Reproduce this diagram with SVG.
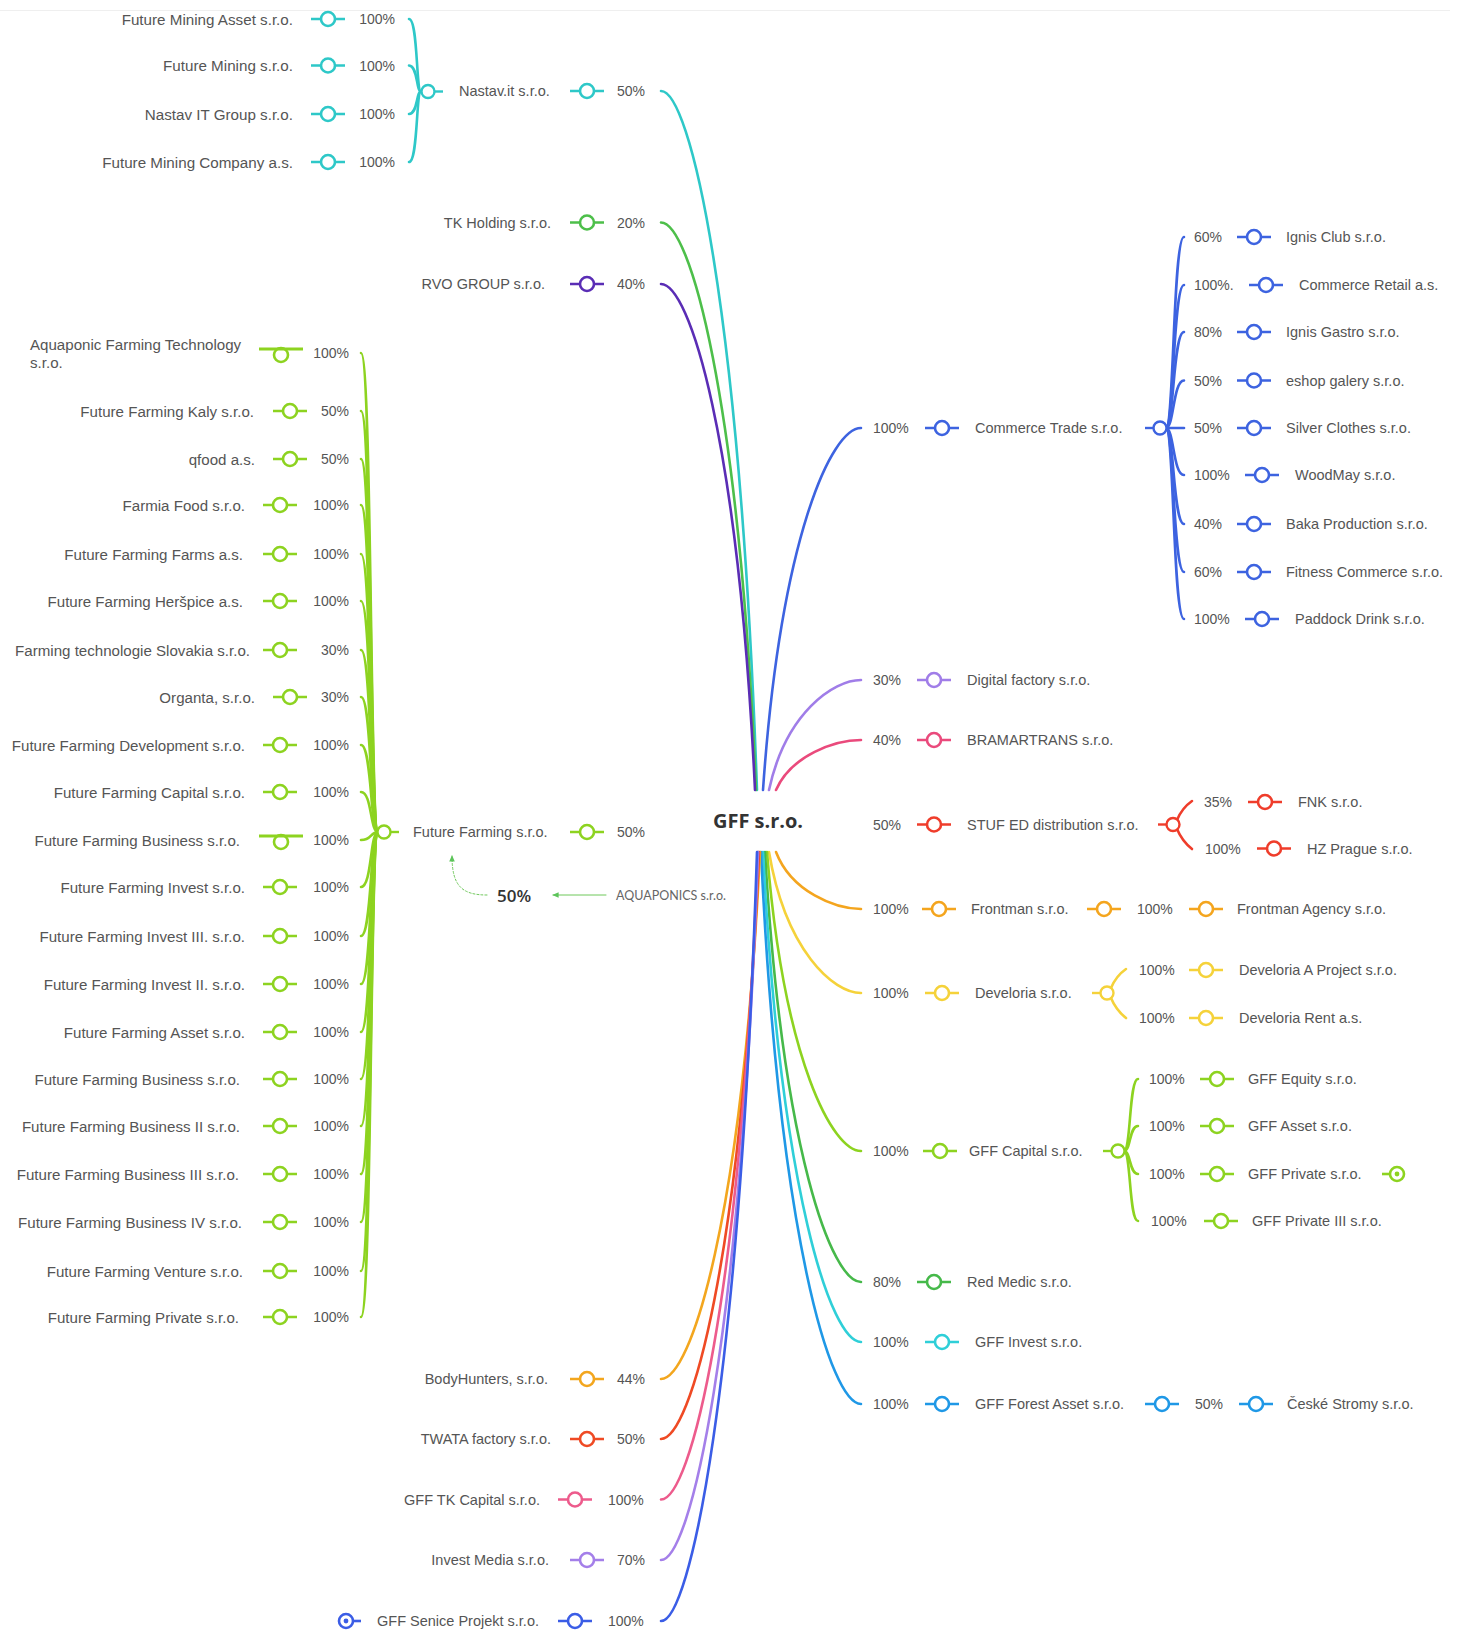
<svg xmlns="http://www.w3.org/2000/svg" width="1464" height="1630" viewBox="0 0 1464 1630">
<style>
.t{font-family:"Liberation Sans",Arial,sans-serif;font-size:14.5px;fill:#555;dominant-baseline:central}
.e{text-anchor:end}
.p{font-size:14px}
.m{font-size:15.2px}
.f{font-size:15.1px}
.c path{fill:none;stroke-width:2.6;stroke-linecap:round}
.title{font-family:"Open Sans","Liberation Sans",sans-serif;font-weight:700;font-size:20px;fill:#333;dominant-baseline:central;text-anchor:middle}
</style>
<defs>
<g id="nd"><path d="M-17 0H-7M7 0H17" stroke="currentColor" stroke-width="2.6" fill="none"/><circle r="7" fill="#fff" stroke="currentColor" stroke-width="2.6"/></g>
<g id="nd2"><circle r="7" cy="2" fill="#fff" stroke="currentColor" stroke-width="2.6"/><path d="M-22 -4H22" stroke="currentColor" stroke-width="2.8" fill="none"/></g>
<g id="jl"><path d="M-15 0H-6.5" stroke="currentColor" stroke-width="2.4" fill="none"/><circle r="6.5" fill="#fff" stroke="currentColor" stroke-width="2.4"/></g>
<g id="jr"><path d="M6.5 0H15" stroke="currentColor" stroke-width="2.4" fill="none"/><circle r="6.5" fill="#fff" stroke="currentColor" stroke-width="2.4"/></g>
<g id="dl"><path d="M-15 0H-7" stroke="currentColor" stroke-width="2.6" fill="none"/><circle r="7" fill="#fff" stroke="currentColor" stroke-width="2.6"/><circle r="2.4" fill="currentColor"/></g>
<g id="dr"><path d="M7 0H15" stroke="currentColor" stroke-width="2.6" fill="none"/><circle r="7" fill="#fff" stroke="currentColor" stroke-width="2.6"/><circle r="2.4" fill="currentColor"/></g>
<marker id="ar" viewBox="0 0 10 10" refX="8" refY="5" markerWidth="7" markerHeight="7" orient="auto"><path d="M0 1L9 5L0 9z" fill="#5cc45a"/></marker>
</defs>
<rect width="1464" height="1630" fill="#fff"/>
<path d="M0 10.5H1450" stroke="#efefef" stroke-width="1"/>

<g id="connectors" class="c">
<path d="M661 91C689.8 91 739.7 300.7 757 790" stroke="#2ec8c8"/>
<path d="M661 222.5C689.5 222.5 738.9 392.8 756 790" stroke="#4dbf4a"/>
<path d="M661 284C689.2 284 738.1 435.8 755 790" stroke="#5a2db5"/>
<path d="M861 428C831.6 428 780.6 536.6 763 790" stroke="#3d63e0"/>
<path d="M861 680C833.4 680 785.6 713 769 790" stroke="#a07de8"/>
<path d="M861 740C835.5 740 791.3 755 776 790" stroke="#ea4a7c"/>
<path d="M861 909C835.5 909 791.3 891.9 776 852" stroke="#f4a51e"/>
<path d="M861 993C833.4 993 785.6 950.7 769 852" stroke="#f5d23a"/>
<path d="M861 1151C832.8 1151 783.9 1061.3 767 852" stroke="#8dd320"/>
<path d="M861 1282C832.2 1282 782.3 1153 765 852" stroke="#46b94a"/>
<path d="M861 1342C831.6 1342 780.6 1195 763 852" stroke="#2fcfd8"/>
<path d="M861 1404C831 1404 779 1238.4 761 852" stroke="#1f98e6"/>
<path d="M661 1379C690.7 1379 742.2 1220.9 760 852" stroke="#f3a61e"/>
<path d="M661 1439C690.4 1439 741.4 1262.9 759 852" stroke="#ef4a24"/>
<path d="M661 1499.5C690.1 1499.5 740.5 1305.3 758 852" stroke="#ed5b8c"/>
<path d="M661 1560C690.1 1560 740.5 1347.6 758 852" stroke="#a47fe9"/>
<path d="M661 1621C689.8 1621 739.7 1390.3 757 852" stroke="#3b5de6"/>
<g stroke="#2ec8c8">
<path d="M421 91.5C416 91.5 418 19 409 19"/>
<path d="M421 91.5C416 91.5 418 65.5 409 65.5"/>
<path d="M421 91.5C416 91.5 418 114 409 114"/>
<path d="M421 91.5C416 91.5 418 162 409 162"/>
</g>
<g stroke="#8dd320">
<path d="M378 832C370 832 372 353 361 353"/>
<path d="M378 832C370 832 372 411 361 411"/>
<path d="M378 832C370 832 372 459 361 459"/>
<path d="M378 832C370 832 372 505 361 505"/>
<path d="M378 832C370 832 372 554 361 554"/>
<path d="M378 832C370 832 372 601 361 601"/>
<path d="M378 832C370 832 372 650 361 650"/>
<path d="M378 832C370 832 372 697 361 697"/>
<path d="M378 832C370 832 372 745 361 745"/>
<path d="M378 832C370 832 372 792 361 792"/>
<path d="M378 832C370 832 372 840 361 840"/>
<path d="M378 832C370 832 372 887 361 887"/>
<path d="M378 832C370 832 372 936 361 936"/>
<path d="M378 832C370 832 372 984 361 984"/>
<path d="M378 832C370 832 372 1032 361 1032"/>
<path d="M378 832C370 832 372 1079 361 1079"/>
<path d="M378 832C370 832 372 1126 361 1126"/>
<path d="M378 832C370 832 372 1174 361 1174"/>
<path d="M378 832C370 832 372 1222 361 1222"/>
<path d="M378 832C370 832 372 1271 361 1271"/>
<path d="M378 832C370 832 372 1317 361 1317"/>
</g>
<g stroke="#3d63e0">
<path d="M1166 428C1174 428 1173 237 1184 237"/>
<path d="M1166 428C1174 428 1173 285 1184 285"/>
<path d="M1166 428C1174 428 1173 332 1184 332"/>
<path d="M1166 428C1174 428 1173 380.5 1184 380.5"/>
<path d="M1166 428H1184"/>
<path d="M1166 428C1174 428 1173 475 1184 475"/>
<path d="M1166 428C1174 428 1173 524 1184 524"/>
<path d="M1166 428C1174 428 1173 572 1184 572"/>
<path d="M1166 428C1174 428 1173 619 1184 619"/>
</g>
<g stroke="#ef3d2b">
<path d="M1177 820Q1182 808 1192 801"/>
<path d="M1177 829Q1182 841 1192 849"/>
</g>
<g stroke="#f5d23a">
<path d="M1111 988Q1116 976 1126 969"/>
<path d="M1111 998Q1116 1010 1126 1018"/>
</g>
<g stroke="#8dd320">
<path d="M1124 1151C1131 1151 1129 1079 1138 1079"/>
<path d="M1124 1151C1131 1151 1129 1126 1138 1126"/>
<path d="M1124 1151C1131 1151 1129 1174 1138 1174"/>
<path d="M1124 1151C1131 1151 1129 1221 1138 1221"/>
</g>
<path d="M606 895H553" stroke="#6ec85a" style="stroke-width:1" marker-end="url(#ar)"/>
<path d="M487 895C462 895 452 886 452 856" stroke="#6ec85a" style="stroke-width:1;stroke-dasharray:2 2" marker-end="url(#ar)"/>
</g>

<g id="n-gff"><text class="title" x="758" y="820">GFF s.r.o.</text></g>

<g id="n-fma" color="#2ec8c8"><text class="t m e" x="293" y="19">Future Mining Asset s.r.o.</text><use href="#nd" x="328" y="19"/><text class="t p e" x="395" y="19">100%</text></g>
<g id="n-fm" color="#2ec8c8"><text class="t m e" x="293" y="65.5">Future Mining s.r.o.</text><use href="#nd" x="328" y="65.5"/><text class="t p e" x="395" y="65.5">100%</text></g>
<g id="n-nitg" color="#2ec8c8"><text class="t m e" x="293" y="114">Nastav IT Group s.r.o.</text><use href="#nd" x="328" y="114"/><text class="t p e" x="395" y="114">100%</text></g>
<g id="n-fmc" color="#2ec8c8"><text class="t m e" x="293" y="162">Future Mining Company a.s.</text><use href="#nd" x="328" y="162"/><text class="t p e" x="395" y="162">100%</text></g>
<g id="n-nastav" color="#2ec8c8"><use href="#jr" x="428" y="91.5"/><text class="t" x="459" y="91">Nastav.it s.r.o.</text><use href="#nd" x="587" y="91"/><text class="t p" x="617" y="91">50%</text></g>

<g id="n-tk" color="#4dbf4a"><text class="t e" x="551" y="222.5">TK Holding s.r.o.</text><use href="#nd" x="587" y="222.5"/><text class="t p" x="617" y="222.5">20%</text></g>
<g id="n-rvo" color="#5a2db5"><text class="t e" x="545" y="284">RVO GROUP s.r.o.</text><use href="#nd" x="587" y="284"/><text class="t p" x="617" y="284">40%</text></g>

<g id="ff01" color="#8dd320"><text class="t f" x="30" y="344">Aquaponic Farming Technology</text><text class="t f" x="30" y="362">s.r.o.</text><use href="#nd2" x="281" y="353"/><text class="t p e" x="349" y="353">100%</text></g>
<g id="ff02" color="#8dd320"><text class="t f e" x="254" y="411">Future Farming Kaly s.r.o.</text><use href="#nd" x="290" y="411"/><text class="t p e" x="349" y="411">50%</text></g>
<g id="ff03" color="#8dd320"><text class="t f e" x="255" y="459">qfood a.s.</text><use href="#nd" x="290" y="459"/><text class="t p e" x="349" y="459">50%</text></g>
<g id="ff04" color="#8dd320"><text class="t f e" x="245" y="505">Farmia Food s.r.o.</text><use href="#nd" x="280" y="505"/><text class="t p e" x="349" y="505">100%</text></g>
<g id="ff05" color="#8dd320"><text class="t f e" x="243" y="554">Future Farming Farms a.s.</text><use href="#nd" x="280" y="554"/><text class="t p e" x="349" y="554">100%</text></g>
<g id="ff06" color="#8dd320"><text class="t f e" x="243" y="601">Future Farming Heršpice a.s.</text><use href="#nd" x="280" y="601"/><text class="t p e" x="349" y="601">100%</text></g>
<g id="ff07" color="#8dd320"><text class="t f e" x="250" y="650">Farming technologie Slovakia s.r.o.</text><use href="#nd" x="280" y="650"/><text class="t p e" x="349" y="650">30%</text></g>
<g id="ff08" color="#8dd320"><text class="t f e" x="255" y="697">Organta, s.r.o.</text><use href="#nd" x="290" y="697"/><text class="t p e" x="349" y="697">30%</text></g>
<g id="ff09" color="#8dd320"><text class="t f e" x="245" y="745">Future Farming Development s.r.o.</text><use href="#nd" x="280" y="745"/><text class="t p e" x="349" y="745">100%</text></g>
<g id="ff10" color="#8dd320"><text class="t f e" x="245" y="792">Future Farming Capital s.r.o.</text><use href="#nd" x="280" y="792"/><text class="t p e" x="349" y="792">100%</text></g>
<g id="ff11" color="#8dd320"><text class="t f e" x="240" y="840">Future Farming Business s.r.o.</text><use href="#nd2" x="281" y="840"/><text class="t p e" x="349" y="840">100%</text></g>
<g id="ff12" color="#8dd320"><text class="t f e" x="245" y="887">Future Farming Invest s.r.o.</text><use href="#nd" x="280" y="887"/><text class="t p e" x="349" y="887">100%</text></g>
<g id="ff13" color="#8dd320"><text class="t f e" x="245" y="936">Future Farming Invest III. s.r.o.</text><use href="#nd" x="280" y="936"/><text class="t p e" x="349" y="936">100%</text></g>
<g id="ff14" color="#8dd320"><text class="t f e" x="245" y="984">Future Farming Invest II. s.r.o.</text><use href="#nd" x="280" y="984"/><text class="t p e" x="349" y="984">100%</text></g>
<g id="ff15" color="#8dd320"><text class="t f e" x="245" y="1032">Future Farming Asset s.r.o.</text><use href="#nd" x="280" y="1032"/><text class="t p e" x="349" y="1032">100%</text></g>
<g id="ff16" color="#8dd320"><text class="t f e" x="240" y="1079">Future Farming Business s.r.o.</text><use href="#nd" x="280" y="1079"/><text class="t p e" x="349" y="1079">100%</text></g>
<g id="ff17" color="#8dd320"><text class="t f e" x="240" y="1126">Future Farming Business II s.r.o.</text><use href="#nd" x="280" y="1126"/><text class="t p e" x="349" y="1126">100%</text></g>
<g id="ff18" color="#8dd320"><text class="t f e" x="239" y="1174">Future Farming Business III s.r.o.</text><use href="#nd" x="280" y="1174"/><text class="t p e" x="349" y="1174">100%</text></g>
<g id="ff19" color="#8dd320"><text class="t f e" x="242" y="1222">Future Farming Business IV s.r.o.</text><use href="#nd" x="280" y="1222"/><text class="t p e" x="349" y="1222">100%</text></g>
<g id="ff20" color="#8dd320"><text class="t f e" x="243" y="1271">Future Farming Venture s.r.o.</text><use href="#nd" x="280" y="1271"/><text class="t p e" x="349" y="1271">100%</text></g>
<g id="ff21" color="#8dd320"><text class="t f e" x="239" y="1317">Future Farming Private s.r.o.</text><use href="#nd" x="280" y="1317"/><text class="t p e" x="349" y="1317">100%</text></g>
<g id="n-ff" color="#8dd320"><use href="#jr" x="384" y="832"/><text class="t" x="413" y="832">Future Farming s.r.o.</text><use href="#nd" x="587" y="832"/><text class="t p" x="617" y="832">50%</text></g>

<g id="n-aquaponics"><text x="514" y="895" style="font-family:'Open Sans','Liberation Sans',sans-serif;font-size:17px;font-weight:600;fill:#333;dominant-baseline:central;text-anchor:middle">50%</text><text x="616" y="895" style="font-family:Lato,'Liberation Sans',sans-serif;font-size:12.5px;fill:#666;dominant-baseline:central">AQUAPONICS s.r.o.</text></g>

<g id="n-body" color="#f3a61e"><text class="t e" x="548" y="1379">BodyHunters, s.r.o.</text><use href="#nd" x="587" y="1379"/><text class="t p" x="617" y="1379">44%</text></g>
<g id="n-twata" color="#ef4a24"><text class="t e" x="551" y="1439">TWATA factory s.r.o.</text><use href="#nd" x="587" y="1439"/><text class="t p" x="617" y="1439">50%</text></g>
<g id="n-gfftk" color="#ed5b8c"><text class="t e" x="540" y="1499.5">GFF TK Capital s.r.o.</text><use href="#nd" x="575" y="1499.5"/><text class="t p" x="608" y="1499.5">100%</text></g>
<g id="n-im" color="#a47fe9"><text class="t e" x="549" y="1560">Invest Media s.r.o.</text><use href="#nd" x="587" y="1560"/><text class="t p" x="617" y="1560">70%</text></g>
<g id="n-senice" color="#3b5de6"><use href="#dr" x="346" y="1621"/><text class="t e" x="539" y="1621">GFF Senice Projekt s.r.o.</text><use href="#nd" x="575" y="1621"/><text class="t p" x="608" y="1621">100%</text></g>

<g id="n-commerce" color="#3d63e0"><text class="t p" x="873" y="428">100%</text><use href="#nd" x="942" y="428"/><text class="t" x="975" y="428">Commerce Trade s.r.o.</text><use href="#jl" x="1160" y="428"/></g>
<g id="c1" color="#3d63e0"><text class="t p" x="1194" y="237">60%</text><use href="#nd" x="1254" y="237"/><text class="t" x="1286" y="237">Ignis Club s.r.o.</text></g>
<g id="c2" color="#3d63e0"><text class="t p" x="1194" y="285">100%.</text><use href="#nd" x="1266" y="285"/><text class="t" x="1299" y="285">Commerce Retail a.s.</text></g>
<g id="c3" color="#3d63e0"><text class="t p" x="1194" y="332">80%</text><use href="#nd" x="1254" y="332"/><text class="t" x="1286" y="332">Ignis Gastro s.r.o.</text></g>
<g id="c4" color="#3d63e0"><text class="t p" x="1194" y="380.5">50%</text><use href="#nd" x="1254" y="380.5"/><text class="t" x="1286" y="380.5">eshop galery s.r.o.</text></g>
<g id="c5" color="#3d63e0"><text class="t p" x="1194" y="428">50%</text><use href="#nd" x="1254" y="428"/><text class="t" x="1286" y="428">Silver Clothes s.r.o.</text></g>
<g id="c6" color="#3d63e0"><text class="t p" x="1194" y="475">100%</text><use href="#nd" x="1262" y="475"/><text class="t" x="1295" y="475">WoodMay s.r.o.</text></g>
<g id="c7" color="#3d63e0"><text class="t p" x="1194" y="524">40%</text><use href="#nd" x="1254" y="524"/><text class="t" x="1286" y="524">Baka Production s.r.o.</text></g>
<g id="c8" color="#3d63e0"><text class="t p" x="1194" y="572">60%</text><use href="#nd" x="1254" y="572"/><text class="t" x="1286" y="572">Fitness Commerce s.r.o.</text></g>
<g id="c9" color="#3d63e0"><text class="t p" x="1194" y="619">100%</text><use href="#nd" x="1262" y="619"/><text class="t" x="1295" y="619">Paddock Drink s.r.o.</text></g>

<g id="n-digital" color="#a07de8"><text class="t p" x="873" y="680">30%</text><use href="#nd" x="934" y="680"/><text class="t" x="967" y="680">Digital factory s.r.o.</text></g>
<g id="n-bramar" color="#ea4a7c"><text class="t p" x="873" y="740">40%</text><use href="#nd" x="934" y="740"/><text class="t" x="967" y="740">BRAMARTRANS s.r.o.</text></g>

<g id="n-stufed" color="#ef3d2b"><text class="t p" x="873" y="824.5">50%</text><use href="#nd" x="934" y="824.5"/><text class="t" x="967" y="824.5">STUF ED distribution s.r.o.</text><use href="#jl" x="1173" y="824.5"/></g>
<g id="n-fnk" color="#ef3d2b"><text class="t p" x="1204" y="802">35%</text><use href="#nd" x="1265" y="802"/><text class="t" x="1298" y="802">FNK s.r.o.</text></g>
<g id="n-hz" color="#ef3d2b"><text class="t p" x="1205" y="848.5">100%</text><use href="#nd" x="1274" y="848.5"/><text class="t" x="1307" y="848.5">HZ Prague s.r.o.</text></g>

<g id="n-frontman" color="#f4a51e"><text class="t p" x="873" y="909">100%</text><use href="#nd" x="939" y="909"/><text class="t" x="971" y="909">Frontman s.r.o.</text><use href="#nd" x="1104" y="909"/></g>
<g id="n-frontag" color="#f4a51e"><text class="t p" x="1137" y="909">100%</text><use href="#nd" x="1206" y="909"/><text class="t" x="1237" y="909">Frontman Agency s.r.o.</text></g>

<g id="n-develoria" color="#f5d23a"><text class="t p" x="873" y="993">100%</text><use href="#nd" x="942" y="993"/><text class="t" x="975" y="993">Develoria s.r.o.</text><use href="#jl" x="1107" y="993"/></g>
<g id="n-devap" color="#f5d23a"><text class="t p" x="1139" y="970">100%</text><use href="#nd" x="1206" y="970"/><text class="t" x="1239" y="970">Develoria A Project s.r.o.</text></g>
<g id="n-devrent" color="#f5d23a"><text class="t p" x="1139" y="1018">100%</text><use href="#nd" x="1206" y="1018"/><text class="t" x="1239" y="1018">Develoria Rent a.s.</text></g>

<g id="n-gffcap" color="#8dd320"><text class="t p" x="873" y="1151">100%</text><use href="#nd" x="940" y="1151"/><text class="t" x="969" y="1151">GFF Capital s.r.o.</text><use href="#jl" x="1118" y="1151"/></g>
<g id="n-eq" color="#8dd320"><text class="t p" x="1149" y="1079">100%</text><use href="#nd" x="1217" y="1079"/><text class="t" x="1248" y="1079">GFF Equity s.r.o.</text></g>
<g id="n-as" color="#8dd320"><text class="t p" x="1149" y="1126">100%</text><use href="#nd" x="1217" y="1126"/><text class="t" x="1248" y="1126">GFF Asset s.r.o.</text></g>
<g id="n-pr" color="#8dd320"><text class="t p" x="1149" y="1174">100%</text><use href="#nd" x="1217" y="1174"/><text class="t" x="1248" y="1174">GFF Private s.r.o.</text><use href="#dl" x="1397" y="1174"/></g>
<g id="n-pr3" color="#8dd320"><text class="t p" x="1151" y="1221">100%</text><use href="#nd" x="1221" y="1221"/><text class="t" x="1252" y="1221">GFF Private III s.r.o.</text></g>

<g id="n-redmedic" color="#46b94a"><text class="t p" x="873" y="1282">80%</text><use href="#nd" x="934" y="1282"/><text class="t" x="967" y="1282">Red Medic s.r.o.</text></g>
<g id="n-gffinv" color="#2fcfd8"><text class="t p" x="873" y="1342">100%</text><use href="#nd" x="942" y="1342"/><text class="t" x="975" y="1342">GFF Invest s.r.o.</text></g>
<g id="n-forest" color="#1f98e6"><text class="t p" x="873" y="1404">100%</text><use href="#nd" x="942" y="1404"/><text class="t" x="975" y="1404">GFF Forest Asset s.r.o.</text><use href="#nd" x="1162" y="1404"/></g>
<g id="n-ceske" color="#1f98e6"><text class="t p" x="1195" y="1404">50%</text><use href="#nd" x="1256" y="1404"/><text class="t" x="1287" y="1404">České Stromy s.r.o.</text></g>
</svg>
